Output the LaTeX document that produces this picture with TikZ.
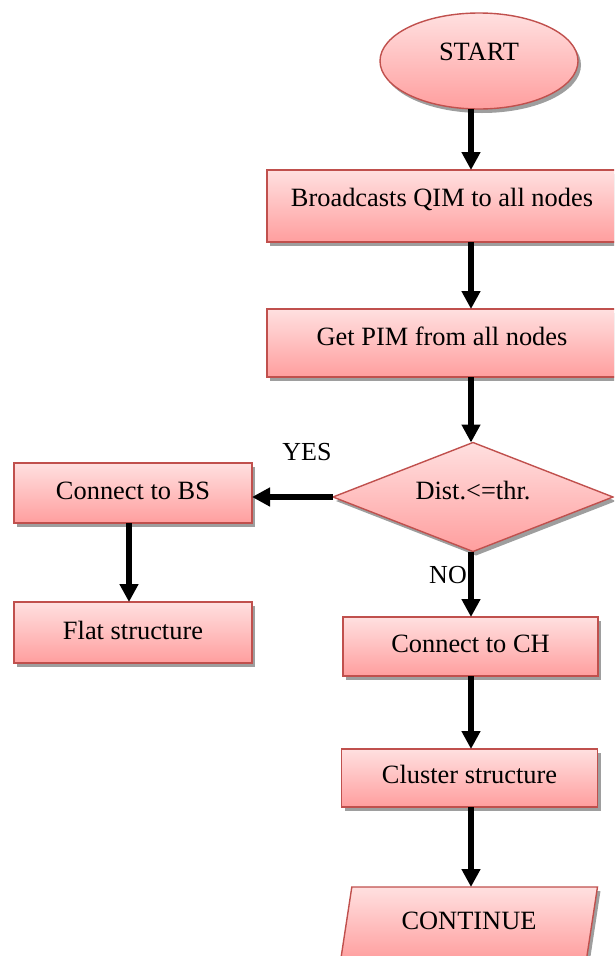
\documentclass[tikz,border=0pt]{standalone}
\usepackage{fontspec}
\setmainfont{Liberation Serif}
\usetikzlibrary{shapes.geometric,shadows,arrows.meta}

\definecolor{boxtop}{RGB}{255,224,224}
\definecolor{boxbot}{RGB}{255,158,158}
\definecolor{boxline}{RGB}{192,80,77}

\tikzset{
  flowshape/.style={draw=boxline, line width=1.4pt, top color=boxtop, bottom color=boxbot,
    inner sep=0pt, outer sep=0pt, font=\fontsize{26.4}{30}\selectfont, text height=20pt,
    drop shadow={shadow xshift=3pt, shadow yshift=-4pt, fill=black!38, opacity=1}},
  procbox/.style={flowshape, rectangle},
  arr/.style={line width=5.5pt, -{Triangle[width=18pt,length=18pt]}},
  tag/.style={font=\fontsize{26}{30}\selectfont, inner sep=0pt}
}

\begin{document}
\begin{tikzpicture}[x=1pt, y=-1pt]
  \useasboundingbox (0,0) rectangle (614,956);
  \clip (0,0) rectangle (614,956);

  % column positions of the vertical connectors
  \coordinate (col) at (471,0);
  \coordinate (colL) at (129,0);

  % main flow
  \node[flowshape, ellipse, minimum width=198pt, minimum height=96pt, text depth=20.6pt]
    (start) at (479,61) {START};
  \node[procbox, minimum width=350pt, minimum height=72pt, text depth=19.6pt]
    (bcast) at (442,206) {Broadcasts QIM to all nodes};
  \node[procbox, minimum width=350pt, minimum height=68pt, text depth=15.6pt]
    (getpim) at (442,343) {Get PIM from all nodes};
  \node[flowshape, diamond, aspect=2.57, minimum width=280pt, minimum height=109pt, text depth=16pt]
    (dist) at (473,497) {Dist.<=thr.};

  % YES branch
  \node[procbox, minimum width=238pt, minimum height=60pt, text depth=6.6pt]
    (cbs) at (133,493) {Connect to BS};
  \node[procbox, minimum width=238pt, minimum height=61pt, text depth=5.6pt]
    (flat) at (133,632.5) {Flat structure};

  % NO branch
  \node[procbox, minimum width=255pt, minimum height=59pt, text depth=7.6pt]
    (cch) at (470.5,646.5) {Connect to CH};
  \node[procbox, minimum width=256pt, minimum height=58pt, text depth=8.6pt]
    (clus) at (469.5,778) {Cluster structure};
  \node[flowshape, trapezium, trapezium stretches=true, trapezium left angle=77.7,
    trapezium right angle=102.3, minimum width=257pt, minimum height=74pt, text depth=9.8pt]
    (cont) at (469,924) {CONTINUE};

  % branch labels
  \node[tag] (yes) at (307,452) {YES};
  \node[tag] (no) at (448,575.5) {NO};

  % connectors
  \draw[arr] (start.south -| col) -- (bcast.north -| col);
  \draw[arr] (bcast.south -| col) -- (getpim.north -| col);
  \draw[arr] (getpim.south -| col) -- (dist.north -| col);
  \draw[arr] (dist.west) -- (cbs.east |- dist.west);
  \draw[arr] (cbs.south -| colL) -- (flat.north -| colL);
  \draw[arr] (dist.south -| col) -- (cch.north -| col);
  \draw[arr] (cch.south -| col) -- (clus.north -| col);
  \draw[arr] (clus.south -| col) -- (cont.north -| col);
\end{tikzpicture}
\end{document}
